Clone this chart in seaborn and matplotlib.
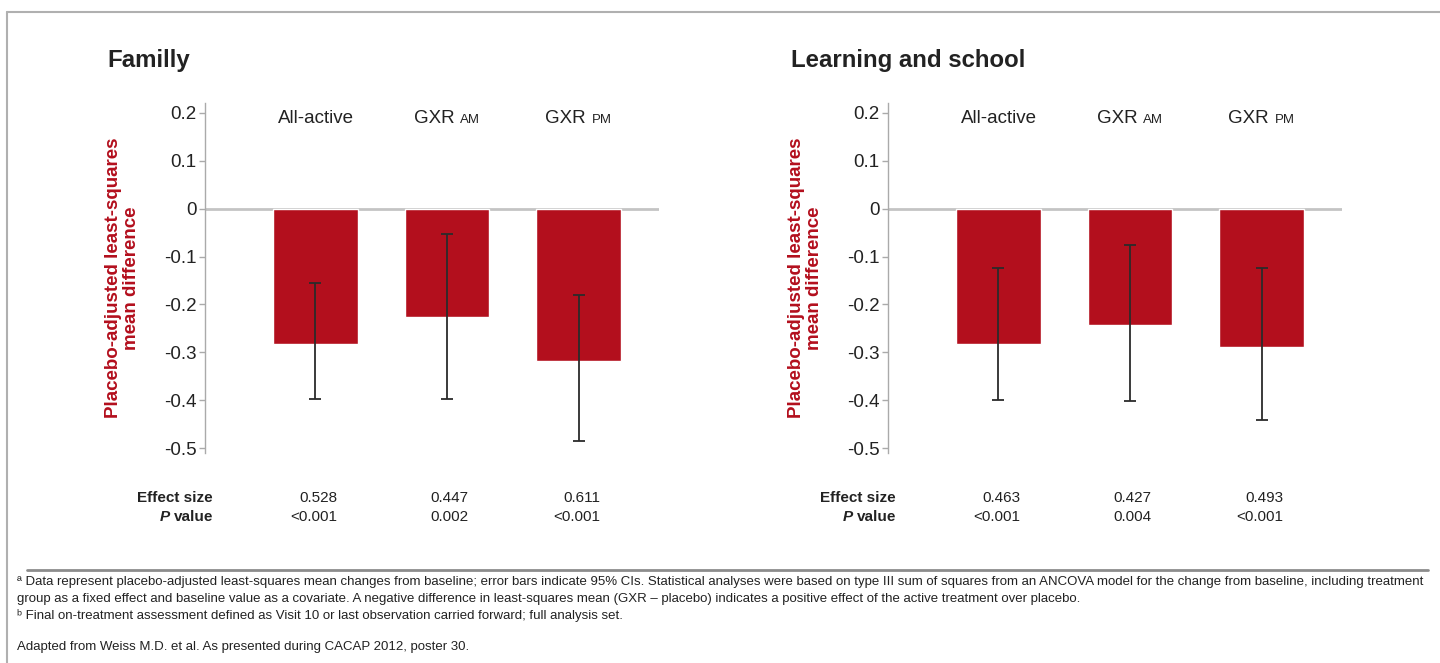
import matplotlib
matplotlib.use("Agg")
import matplotlib.pyplot as plt
import seaborn as sns
import pandas as pd
import numpy as np
from matplotlib.lines import Line2D
from matplotlib.offsetbox import TextArea, HPacker, AnnotationBbox

# ---------------- data ----------------
groups = ["All-active", "GXR AM", "GXR PM"]
group_main = ["All-active", "GXR", "GXR"]
group_sub = ["", "AM", "PM"]

panel_titles = ["Familly", "Learning and school"]

family_mean = [-0.282, -0.226, -0.317]
family_ci_low = [-0.398, -0.398, -0.485]
family_ci_high = [-0.155, -0.053, -0.180]
family_effect = ["0.528", "0.447", "0.611"]
family_p = ["<0.001", "0.002", "<0.001"]

school_mean = [-0.283, -0.242, -0.288]
school_ci_low = [-0.400, -0.402, -0.440]
school_ci_high = [-0.124, -0.077, -0.124]
school_effect = ["0.463", "0.427", "0.493"]
school_p = ["<0.001", "0.004", "<0.001"]

ytick_values = [0.2, 0.1, 0.0, -0.1, -0.2, -0.3, -0.4, -0.5]
ytick_labels = ["0.2", "0.1", "0", "-0.1", "-0.2", "-0.3", "-0.4", "-0.5"]

ylabel_text = "Placebo-adjusted least-squares\nmean difference"

footnotes = [
    "\u00aa Data represent placebo-adjusted least-squares mean changes from baseline; error bars indicate 95% CIs. Statistical analyses were based on type III sum of squares from an ANCOVA model for the change from baseline, including treatment",
    "group as a fixed effect and baseline value as a covariate. A negative difference in least-squares mean (GXR \u2013 placebo) indicates a positive effect of the active treatment over placebo.",
    "\u1d47 Final on-treatment assessment defined as Visit 10 or last observation carried forward; full analysis set.",
]
source_note = "Adapted from Weiss M.D. et al. As presented during CACAP 2012, poster 30."

# ---------------- style ----------------
sns.set_theme(style="white")
plt.rcParams["font.family"] = ["Liberation Sans", "DejaVu Sans"]

RED = "#b30f1d"
TXT = "#222222"
GRID = "#aaaaaa"

fig = plt.figure(figsize=(14.4, 6.63), dpi=100)

W, H = 1440.0, 663.0
def fx(px):
    return px / W
def fy(py):
    return (H - py) / H

ax_lefts = [205, 888]
ax_right_len = 454
ax_top, ax_bot = 103, 452.7
title_x = [107, 791]

panels = [
    (family_mean, family_ci_low, family_ci_high, family_effect, family_p),
    (school_mean, school_ci_low, school_ci_high, school_effect, school_p),
]

for k, (means, lo, hi, eff, pv) in enumerate(panels):
    ax = fig.add_axes([fx(ax_lefts[k]), fy(ax_bot), ax_right_len / W, (ax_bot - ax_top) / H])
    df = pd.DataFrame({"group": groups, "value": means})
    ax.axhline(0, color="#c4c4c4", lw=2, zorder=0)
    sns.barplot(data=df, x="group", y="value", color=RED, saturation=1,
                width=0.646, errorbar=None, ax=ax, zorder=2)
    means_a = np.array(means)
    yerr = [means_a - np.array(lo), np.array(hi) - means_a]
    ax.errorbar(np.arange(len(groups)), means_a, yerr=yerr, fmt="none",
                ecolor="#2b2b2b", elinewidth=1.3, capsize=4.5, capthick=1.3, zorder=3)

    ax.set_xlim(-0.84, 2.612)
    ax.set_ylim(-0.509, 0.220)
    ax.set_xticks([])
    ax.set_xlabel("")
    ax.set_yticks(ytick_values)
    ax.set_yticklabels(ytick_labels)
    ax.tick_params(axis="y", left=True, length=4, width=1, color=GRID,
                   labelsize=13.5, labelcolor=TXT, pad=2)
    for s in ["top", "right", "bottom"]:
        ax.spines[s].set_visible(False)
    ax.spines["left"].set_color(GRID)
    ax.spines["left"].set_linewidth(1)

    ax.set_ylabel(ylabel_text, color=RED, fontsize=13.5, fontweight="bold",
                  linespacing=1.1)
    ax.yaxis.set_label_coords(-0.143, 0.5)

    # category labels at top
    for i in range(len(groups)):
        if group_sub[i]:
            box = HPacker(children=[
                TextArea(group_main[i], textprops=dict(size=13.5, color=TXT)),
                TextArea(group_sub[i], textprops=dict(size=9.5, color=TXT)),
            ], align="baseline", pad=0, sep=4)
            ab = AnnotationBbox(box, (i, 0.187), xycoords="data", frameon=False,
                                box_alignment=(0.5, 0.5), pad=0)
            ax.add_artist(ab)
        else:
            ax.text(i, 0.187, group_main[i], ha="center", va="center",
                    fontsize=13.5, color=TXT)

    # effect size / p value table
    trans = ax.get_xaxis_transform()
    y_eff = (ax_bot - 498) / (ax_bot - ax_top)
    y_p = (ax_bot - 517) / (ax_bot - ax_top)
    ax.text(-0.779, y_eff, "Effect size", transform=trans, ha="right", va="center",
            fontsize=11, fontweight="bold", color=TXT, clip_on=False)
    pbox = HPacker(children=[
        TextArea("P", textprops=dict(size=11, weight="bold", style="italic", color=TXT)),
        TextArea("value", textprops=dict(size=11, weight="bold", color=TXT)),
    ], align="baseline", pad=0, sep=3)
    ab = AnnotationBbox(pbox, (-0.779, y_p), xycoords=trans, frameon=False,
                        box_alignment=(1, 0.5), pad=0, annotation_clip=False)
    ax.add_artist(ab)
    for i in range(len(groups)):
        ax.text(i + 0.164, y_eff, eff[i], transform=trans, ha="right", va="center",
                fontsize=11, color=TXT, clip_on=False)
        ax.text(i + 0.164, y_p, pv[i], transform=trans, ha="right", va="center",
                fontsize=11, color=TXT, clip_on=False)

    fig.text(fx(title_x[k]), fy(60), panel_titles[k], ha="left", va="center",
             fontsize=17.3, fontweight="bold", color=TXT)

# frame lines
fig.add_artist(Line2D([fx(7), 1.0], [fy(12), fy(12)], color="#b0b0b0", lw=1.5))
fig.add_artist(Line2D([fx(7), fx(7)], [fy(12), 0.0], color="#b0b0b0", lw=1.5))
# separator
fig.add_artist(Line2D([fx(27), fx(1428)], [fy(570), fy(570)], color="#8c8c8c", lw=2))

foot_y = [582, 599, 615.5]
for t, yy in zip(footnotes, foot_y):
    fig.text(fx(17), fy(yy), t, ha="left", va="center", fontsize=9.5, color=TXT)
fig.text(fx(17), fy(647), source_note, ha="left", va="center", fontsize=9.5, color=TXT)

fig.savefig("out.png", dpi=100, facecolor="white")
